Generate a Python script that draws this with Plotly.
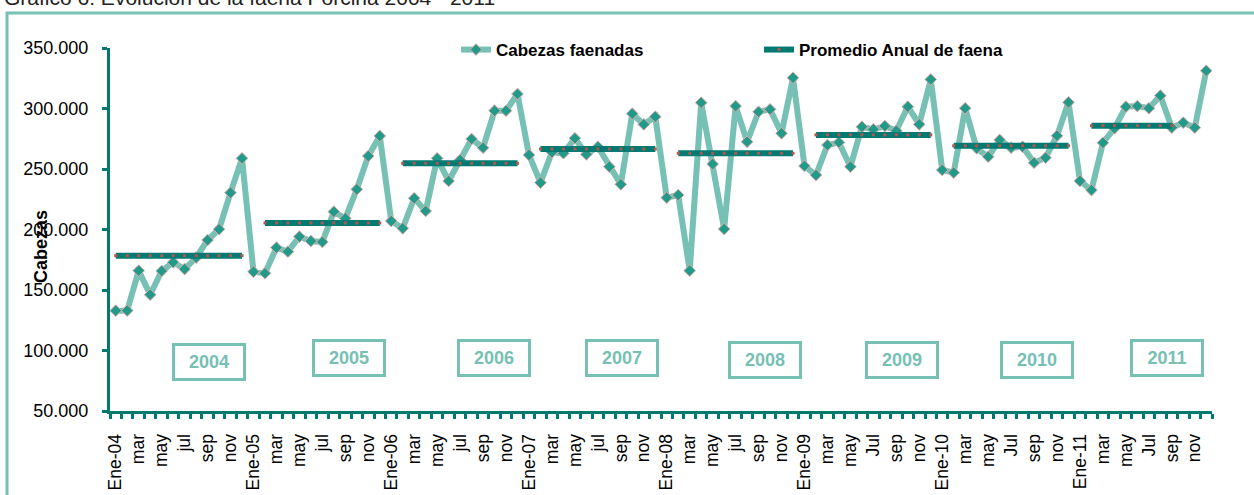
import plotly.graph_objects as go

# ---------------- data ----------------
anios = ["04", "05", "06", "07", "08", "09", "10", "11"]
meses_etiqueta_a = ["mar", "may", "jul", "sep", "nov"]   # 2004-2008
meses_etiqueta_b = ["mar", "may", "Jul", "sep", "nov"]   # 2009-2011

cab_2004 = [132900, 133000, 166000, 146100, 165700, 172900, 167300, 176700, 191300, 200200, 230400, 258800]
cab_2005 = [165100, 163800, 185000, 181700, 194100, 190500, 189700, 214700, 209200, 233200, 260700, 277300]
cab_2006 = [207000, 201000, 225800, 215300, 258800, 240100, 257400, 274800, 267600, 298200, 298200, 312000]
cab_2007 = [261600, 238700, 263800, 263000, 275400, 262100, 268400, 251900, 237300, 295700, 286900, 293200]
cab_2008 = [226300, 228500, 166000, 304800, 254100, 200400, 302000, 272500, 297300, 299300, 279500, 325400]
cab_2009 = [252500, 245000, 269800, 272000, 251900, 284900, 282800, 285500, 281600, 301500, 286900, 324000]
cab_2010 = [249200, 247000, 300200, 267100, 260200, 274000, 267600, 268400, 255200, 259300, 277500, 305100]
cab_2011 = [240100, 232600, 271700, 283600, 301500, 302000, 300200, 310600, 284200, 288300, 284200, 331200]

promedio_anual = [178400, 205400, 254700, 266500, 263000, 278200, 269200, 285800]
promedio_desde = [0, 1, 1, 1, 1, 1, 1, 1]    # month index in year where the average segment starts
promedio_hasta = [11, 11, 11, 11, 11, 11, 11, 8]

etiquetas_anio = ["2004", "2005", "2006", "2007", "2008", "2009", "2010", "2011"]

# ---------------- build series ----------------
cabezas = cab_2004 + cab_2005 + cab_2006 + cab_2007 + cab_2008 + cab_2009 + cab_2010 + cab_2011
n = len(cabezas)
x_idx = list(range(n))

prom = [None] * n
for k, v in enumerate(promedio_anual):
    for m in range(promedio_desde[k], promedio_hasta[k] + 1):
        prom[k * 12 + m] = v

tickvals, ticktext = [], []
for k, a in enumerate(anios):
    labs = meses_etiqueta_a if k < 5 else meses_etiqueta_b
    tickvals.append(k * 12)
    ticktext.append("Ene-" + a)
    for j, lab in enumerate(labs):
        tickvals.append(k * 12 + 2 * (j + 1))
        ticktext.append(lab)

FONT = "Liberation Sans, Arial, sans-serif"
AXIS = "#00796F"
LIGHT = "#76C0B4"

fig = go.Figure()
fig.add_trace(go.Scatter(
    x=x_idx, y=cabezas, mode="lines+markers", name="<b>Cabezas faenadas</b>",
    line=dict(color=LIGHT, width=6),
    marker=dict(symbol="diamond", size=9, color="#229A8A", line=dict(color="#E3A9A6", width=1)),
    legend="legend",
))
fig.add_trace(go.Scatter(
    x=x_idx, y=prom, mode="lines+markers", name="<b>Promedio Anual de faena</b>",
    line=dict(color="#007A72", width=6), connectgaps=False,
    marker=dict(symbol="square", size=3, color="#B0584E"),
    legend="legend2",
))

L, R, T, B = 110, 42, 48, 84
W, H = 1254, 495
pw, ph = W - L - R, H - T - B


def px(xp):
    return (xp - L) / pw


def py(yp):
    return (H - B - yp) / ph


annotations = []
# title (mostly cut off at top)
annotations.append(dict(text="Gráfico 6: Evolución de la faena Porcina 2004 - 2011",
                        xref="paper", yref="paper", x=px(2), y=py(11), xanchor="left", yanchor="bottom",
                        showarrow=False, font=dict(family=FONT, size=21, color="#222222")))
# y axis title
annotations.append(dict(text="<b>Cabezas</b>", xref="paper", yref="paper", x=px(41), y=py(247),
                        xanchor="center", yanchor="middle", textangle=-90, showarrow=False,
                        font=dict(family=FONT, size=18, color="#000000")))
# year boxes
caja_x = [208.7, 348.7, 494.2, 621.8, 764.5, 902.2, 1036.5, 1167.2]
caja_y = [361.8, 357.5, 357.8, 358.0, 360.3, 360.0, 360.0, 357.8]
for lab, cx, cy in zip(etiquetas_anio, caja_x, caja_y):
    annotations.append(dict(text="<b>" + lab + "</b>", xref="paper", yref="paper", x=px(cx), y=py(cy),
                            xanchor="center", yanchor="middle", showarrow=False,
                            width=66, height=30, borderpad=1, borderwidth=3, bordercolor=LIGHT,
                            bgcolor="white",
                            font=dict(family=FONT, size=18, color=LIGHT)))

shapes = [dict(type="rect", xref="paper", yref="paper", x0=px(7), x1=px(1265), y0=py(505), y1=py(13),
               line=dict(color=LIGHT, width=3), layer="below")]

fig.update_layout(
    width=W, height=H, margin=dict(l=L, r=R, t=T, b=B, autoexpand=False),
    paper_bgcolor="white", plot_bgcolor="white",
    separators=",.",
    font=dict(family=FONT, size=18, color="#000000"),
    showlegend=True,
    legend=dict(orientation="h", x=px(456), y=py(50), xanchor="left", yanchor="middle",
                bgcolor="rgba(0,0,0,0)", font=dict(family=FONT, size=17, color="#000000")),
    legend2=dict(orientation="h", x=px(759), y=py(50), xanchor="left", yanchor="middle",
                 bgcolor="rgba(0,0,0,0)", font=dict(family=FONT, size=17, color="#000000")),
    annotations=annotations,
    shapes=shapes,
    xaxis=dict(range=[-0.5, n - 0.5], tickmode="array", tickvals=tickvals, ticktext=ticktext,
               tickangle=-90, ticks="outside", ticklen=6, tickcolor="rgba(0,0,0,0)",
               showline=True, linecolor=AXIS, linewidth=3, showgrid=False, zeroline=False,
               automargin=False,
               tickfont=dict(family=FONT, size=17.5, color="#000000"), ticklabelstandoff=7,
               minor=dict(tickmode="linear", tick0=-0.5, dtick=1, ticks="outside", ticklen=5,
                          tickwidth=3, tickcolor=AXIS, showgrid=False)),
    yaxis=dict(range=[50000, 350000], tickmode="array",
               tickvals=[50000, 100000, 150000, 200000, 250000, 300000, 350000],
               tickformat=",d", ticks="outside", ticklen=5, tickwidth=3, tickcolor=AXIS,
               showline=True, linecolor=AXIS, linewidth=3, showgrid=False, zeroline=False,
               automargin=False,
               tickfont=dict(family=FONT, size=18, color="#000000"), ticklabelstandoff=10),
)

fig.write_html("out.html", config={"displayModeBar": False},
               post_script="document.body.style.margin='0';document.body.style.overflow='hidden';")
